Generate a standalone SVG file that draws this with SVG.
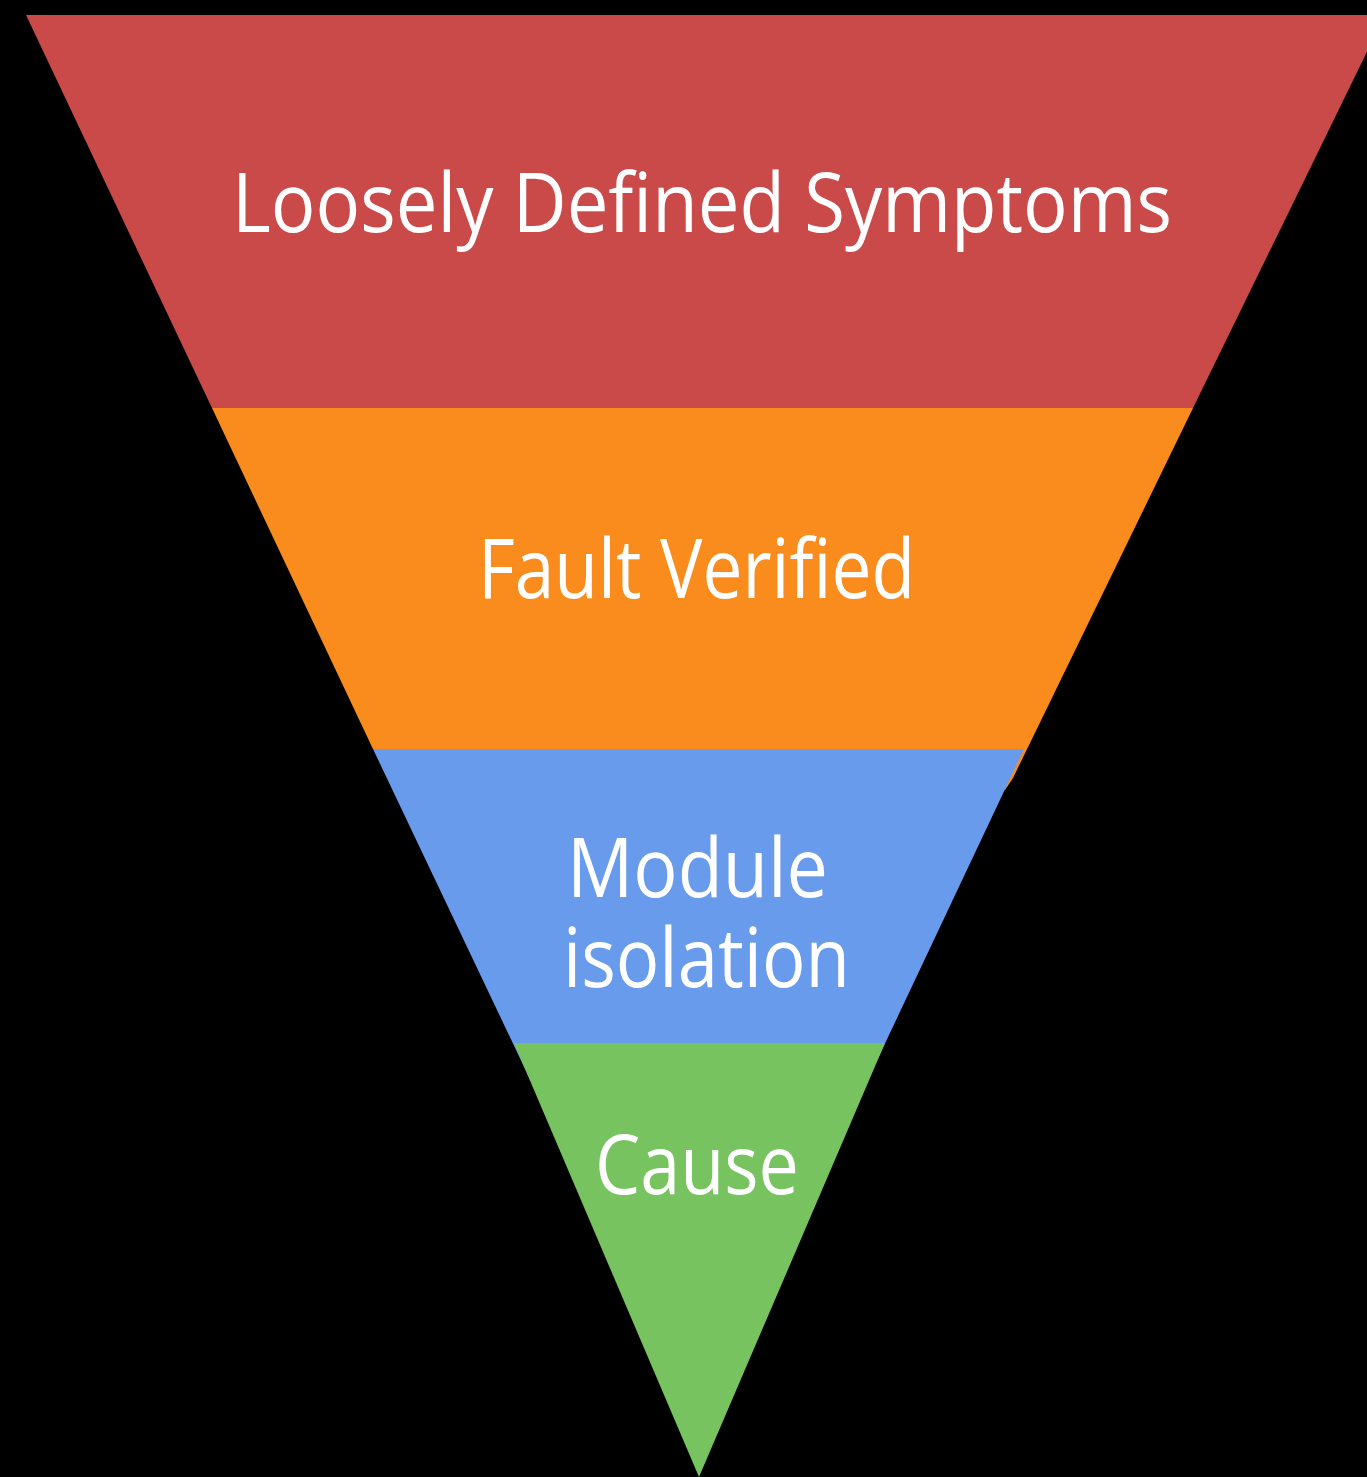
<svg xmlns="http://www.w3.org/2000/svg" width="1367" height="1477" viewBox="0 0 1367 1477">
<style>
.lbl{font-family:"Open Sans","Noto Sans","Liberation Sans",sans-serif;font-size:83px;fill:#ffffff;}
</style>
<rect x="0" y="0" width="1367" height="1477" fill="#000000"/>
<g id="stage-symptoms">
<polygon points="26,15 1385,15 1193,408 212,408" fill="#CA4A49"/>
<text class="lbl" x="232" y="232" textLength="940" lengthAdjust="spacingAndGlyphs">Loosely Defined Symptoms</text>
</g>
<g id="stage-fault">
<polygon points="212,408 1193,408 1013,778 1005,790 373,749" fill="#FA8C1D"/>
<text class="lbl" x="478" y="598" textLength="437" lengthAdjust="spacingAndGlyphs">Fault Verified</text>
</g>
<g id="stage-module">
<polygon points="373,749 1024,749 864,1088 699,1043 536,1092" fill="#689BEB"/>
<text class="lbl" x="567" y="897" textLength="261" lengthAdjust="spacingAndGlyphs">Module</text>
<text class="lbl" x="563" y="987" textLength="287" lengthAdjust="spacingAndGlyphs">isolation</text>
</g>
<g id="stage-cause">
<polygon points="514,1043 885,1043 699,1477" fill="#76C35F"/>
<text class="lbl" x="595" y="1194" textLength="204" lengthAdjust="spacingAndGlyphs">Cause</text>
</g>
<g id="connectors"></g>
</svg>
